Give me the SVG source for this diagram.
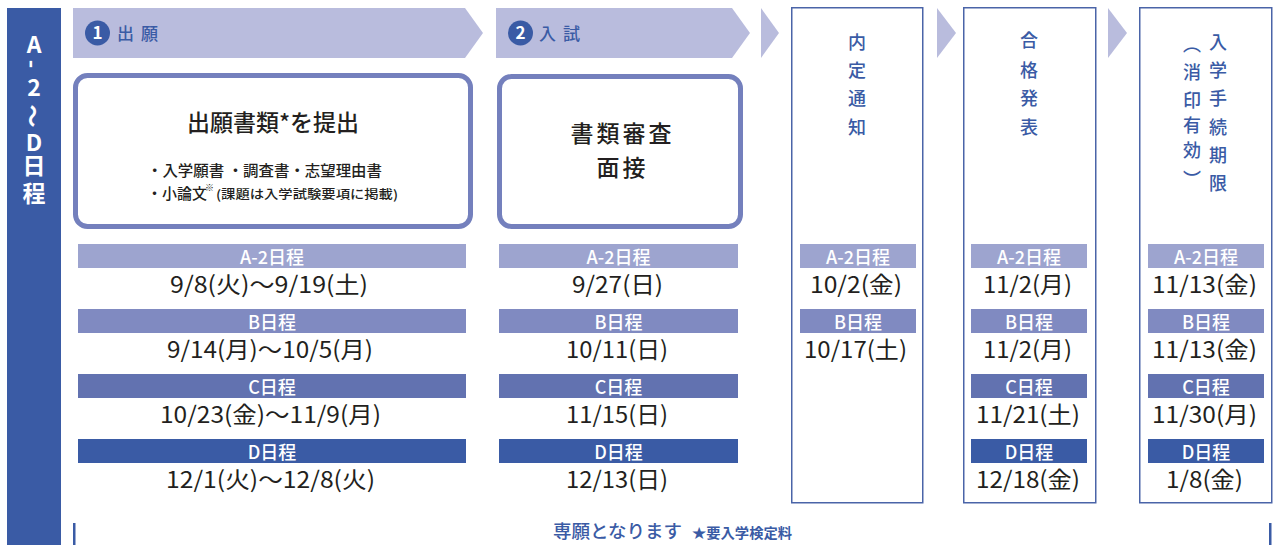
<svg xmlns="http://www.w3.org/2000/svg" width="1274" height="545" viewBox="0 0 1274 545">
<defs>
<style>
text{font-family:"Noto Sans CJK JP","Noto Sans",sans-serif;}
.banner{fill:#b9bcdd;}
.box{fill:#fff;stroke:#7480bd;stroke-width:5;}
.col{fill:#fff;stroke:#4a64a8;stroke-width:1.5;}
.blue{fill:#3a5ba5;}
.lA{fill:#9da4cf;}
.lB{fill:#808ac1;}
.lC{fill:#6272b0;}
.lD{fill:#3a5ba5;}
.lt{fill:#fff;font-size:18px;font-weight:500;text-anchor:middle;}
.dt{fill:#231f20;font-size:23px;font-weight:400;}
.vt{fill:#3a5ba5;font-size:18px;font-weight:500;text-anchor:middle;}
.side{fill:#fff;font-size:23px;font-weight:700;text-anchor:middle;}
.hd{fill:#3a5ba5;font-size:17px;font-weight:500;letter-spacing:7px;}
.num{fill:#fff;font-size:17px;font-weight:700;text-anchor:middle;}
.big{fill:#231f20;font-size:23px;font-weight:500;text-anchor:middle;}
.sm{fill:#231f20;font-size:15px;font-weight:500;}
</style>
</defs>

<g id="side-bar">
<rect x="7" y="8" width="54" height="537" class="blue"/>
<text class="side" x="34" y="53">A</text>
<text class="side" x="34" y="64" dominant-baseline="central" transform="rotate(90 34 64)">-</text>
<text class="side" x="34" y="96">2</text>
<text class="side" x="34" y="116" dominant-baseline="central" transform="rotate(90 34 116)">〜</text>
<text class="side" x="34" y="151">D</text>
<text class="side" x="34" y="174">日</text>
<text class="side" x="34" y="202">程</text>
</g>

<g id="connectors">
<polygon class="banner" points="761,8 779,33 761,58"/>
<polygon class="banner" points="937,8 956,33 937,58"/>
<polygon class="banner" points="1108,8 1127,33 1108,58"/>
</g>

<g id="step1">
<polygon class="banner" points="73,8 465,8 483,33 465,58 73,58"/>
<circle cx="97.5" cy="33" r="12.5" class="blue"/>
<text class="num" x="97.5" y="39">1</text>
<text class="hd" x="117" y="40">出願</text>
<rect x="75.5" y="75.5" width="395" height="151" rx="12" class="box"/>
<text class="big" x="273" y="131">出願書類*を提出</text>
<text class="sm" x="147" y="176" textLength="235" lengthAdjust="spacingAndGlyphs">・入学願書 ・調査書・志望理由書</text>
<text class="sm" x="147" y="199">・小論文</text>
<text x="205" y="191" style="fill:#231f20;font-size:9px;">※</text>
<text x="216" y="199" style="fill:#231f20;font-size:12.5px;font-weight:500;" textLength="182" lengthAdjust="spacingAndGlyphs">(課題は入学試験要項に掲載)</text>
</g>

<g id="step2">
<polygon class="banner" points="496,8 732,8 750,33 732,58 496,58"/>
<circle cx="520.5" cy="33" r="12.5" class="blue"/>
<text class="num" x="520.5" y="39">2</text>
<text class="hd" x="539" y="40">入試</text>
<rect x="499.5" y="76.5" width="241" height="150" rx="12" class="box"/>
<text class="big" x="622.5" y="142" style="letter-spacing:3px">書類審査</text>
<text class="big" x="622.5" y="176" style="letter-spacing:3px">面接</text>
</g>

<g id="step3">
<rect x="791.75" y="7.75" width="131" height="495" class="col"/>
<text class="vt" x="857" y="49">内</text>
<text class="vt" x="857" y="77">定</text>
<text class="vt" x="857" y="105">通</text>
<text class="vt" x="857" y="134">知</text>
</g>

<g id="step4">
<rect x="963.75" y="7.75" width="132" height="495" class="col"/>
<text class="vt" x="1029" y="47">合</text>
<text class="vt" x="1029" y="77">格</text>
<text class="vt" x="1029" y="105">発</text>
<text class="vt" x="1029" y="134">表</text>
</g>

<g id="step5">
<rect x="1139.75" y="7.75" width="132" height="495" class="col"/>
<text class="vt" x="1218" y="49">入</text>
<text class="vt" x="1218" y="77">学</text>
<text class="vt" x="1218" y="105">手</text>
<text class="vt" x="1218" y="134">続</text>
<text class="vt" x="1218" y="162">期</text>
<text class="vt" x="1218" y="190">限</text>
<text class="vt" x="1192" y="43" dominant-baseline="central">︵</text>
<text class="vt" x="1192" y="79">消</text>
<text class="vt" x="1192" y="107">印</text>
<text class="vt" x="1192" y="132">有</text>
<text class="vt" x="1192" y="157">効</text>
<text class="vt" x="1192" y="178" dominant-baseline="central">︶</text>
</g>

<g id="schedule-apply">
<rect x="78" y="244" width="388" height="24" class="lA"/>
<text class="lt" x="272" y="264">A-2日程</text>
<text class="dt" x="170" y="293" textLength="198" lengthAdjust="spacingAndGlyphs">9/8(火)〜9/19(土)</text>
<rect x="78" y="309" width="388" height="24" class="lB"/>
<text class="lt" x="272" y="329">B日程</text>
<text class="dt" x="167" y="358" textLength="206" lengthAdjust="spacingAndGlyphs">9/14(月)〜10/5(月)</text>
<rect x="78" y="374" width="388" height="24" class="lC"/>
<text class="lt" x="272" y="394">C日程</text>
<text class="dt" x="160" y="423" textLength="221" lengthAdjust="spacingAndGlyphs">10/23(金)〜11/9(月)</text>
<rect x="78" y="439" width="388" height="24" class="lD"/>
<text class="lt" x="272" y="459">D日程</text>
<text class="dt" x="166" y="488" textLength="209" lengthAdjust="spacingAndGlyphs">12/1(火)〜12/8(火)</text>
</g>

<g id="schedule-exam">
<rect x="499" y="244" width="239" height="24" class="lA"/>
<text class="lt" x="618.5" y="264">A-2日程</text>
<text class="dt" x="572" y="293" textLength="91" lengthAdjust="spacingAndGlyphs">9/27(日)</text>
<rect x="499" y="309" width="239" height="24" class="lB"/>
<text class="lt" x="618.5" y="329">B日程</text>
<text class="dt" x="566" y="358" textLength="102" lengthAdjust="spacingAndGlyphs">10/11(日)</text>
<rect x="499" y="374" width="239" height="24" class="lC"/>
<text class="lt" x="618.5" y="394">C日程</text>
<text class="dt" x="566" y="423" textLength="102" lengthAdjust="spacingAndGlyphs">11/15(日)</text>
<rect x="499" y="439" width="239" height="24" class="lD"/>
<text class="lt" x="618.5" y="459">D日程</text>
<text class="dt" x="566" y="488" textLength="102" lengthAdjust="spacingAndGlyphs">12/13(日)</text>
</g>

<g id="schedule-notice">
<rect x="800" y="244" width="116" height="24" class="lA"/>
<text class="lt" x="858" y="264">A-2日程</text>
<text class="dt" x="810" y="293" textLength="92" lengthAdjust="spacingAndGlyphs">10/2(金)</text>
<rect x="800" y="309" width="116" height="24" class="lB"/>
<text class="lt" x="858" y="329">B日程</text>
<text class="dt" x="804" y="358" textLength="103" lengthAdjust="spacingAndGlyphs">10/17(土)</text>
</g>

<g id="schedule-result">
<rect x="971" y="244" width="116" height="24" class="lA"/>
<text class="lt" x="1029" y="264">A-2日程</text>
<text class="dt" x="983" y="293" textLength="89" lengthAdjust="spacingAndGlyphs">11/2(月)</text>
<rect x="971" y="309" width="116" height="24" class="lB"/>
<text class="lt" x="1029" y="329">B日程</text>
<text class="dt" x="983" y="358" textLength="89" lengthAdjust="spacingAndGlyphs">11/2(月)</text>
<rect x="971" y="374" width="116" height="24" class="lC"/>
<text class="lt" x="1029" y="394">C日程</text>
<text class="dt" x="976" y="423" textLength="104" lengthAdjust="spacingAndGlyphs">11/21(土)</text>
<rect x="971" y="439" width="116" height="24" class="lD"/>
<text class="lt" x="1029" y="459">D日程</text>
<text class="dt" x="976" y="488" textLength="104" lengthAdjust="spacingAndGlyphs">12/18(金)</text>
</g>

<g id="schedule-enroll">
<rect x="1148" y="244" width="116" height="24" class="lA"/>
<text class="lt" x="1206" y="264">A-2日程</text>
<text class="dt" x="1152" y="293" textLength="105" lengthAdjust="spacingAndGlyphs">11/13(金)</text>
<rect x="1148" y="309" width="116" height="24" class="lB"/>
<text class="lt" x="1206" y="329">B日程</text>
<text class="dt" x="1152" y="358" textLength="105" lengthAdjust="spacingAndGlyphs">11/13(金)</text>
<rect x="1148" y="374" width="116" height="24" class="lC"/>
<text class="lt" x="1206" y="394">C日程</text>
<text class="dt" x="1152" y="423" textLength="105" lengthAdjust="spacingAndGlyphs">11/30(月)</text>
<rect x="1148" y="439" width="116" height="24" class="lD"/>
<text class="lt" x="1206" y="459">D日程</text>
<text class="dt" x="1166" y="488" textLength="77" lengthAdjust="spacingAndGlyphs">1/8(金)</text>
</g>

<g id="footer">
<rect x="73" y="523" width="2.5" height="22" class="blue"/>
<rect x="1269" y="523" width="2.5" height="22" class="blue"/>
<text x="553" y="538" style="fill:#3a5ba5;font-size:18px;font-weight:500;" textLength="129" lengthAdjust="spacingAndGlyphs">専願となります</text>
<text x="692" y="538" style="fill:#3a5ba5;font-size:13.5px;font-weight:700;" textLength="100" lengthAdjust="spacingAndGlyphs">★要入学検定料</text>
</g>
</svg>
